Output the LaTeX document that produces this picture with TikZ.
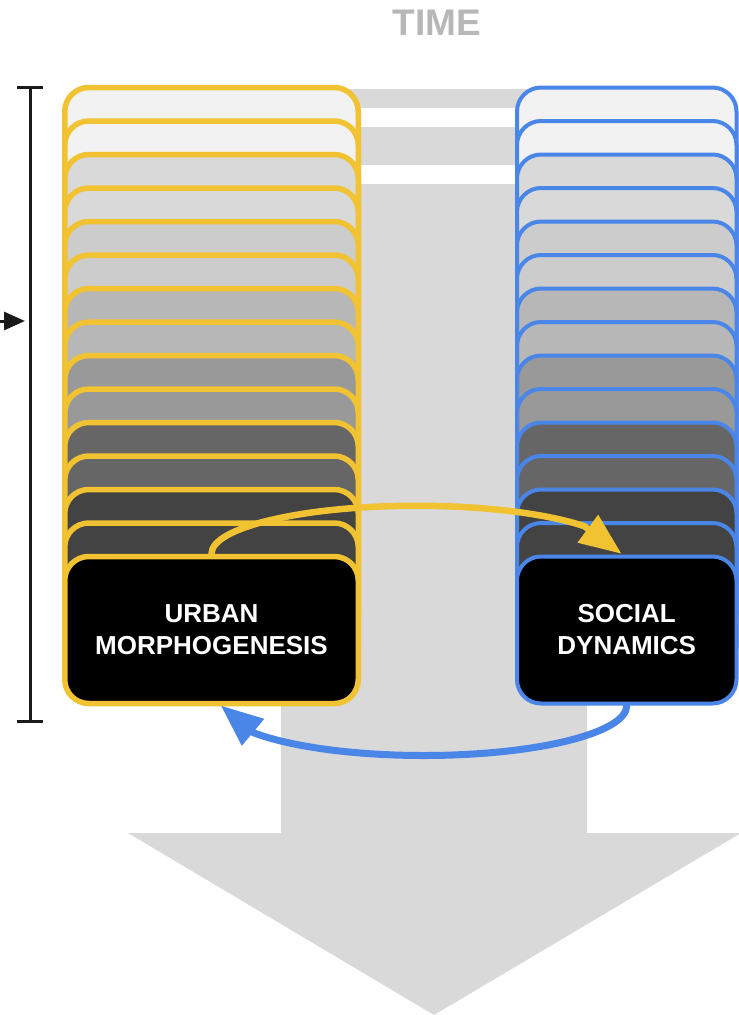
\documentclass[tikz,border=0pt]{standalone}
\usepackage{fontspec}
\setmainfont{Liberation Sans}
\usetikzlibrary{arrows.meta,calc}
\definecolor{yel}{HTML}{F1C232}
\definecolor{blu}{HTML}{4A86E8}
\definecolor{tgray}{HTML}{D9D9D9}
\definecolor{ttext}{HTML}{B7B7B7}
\definecolor{brk}{HTML}{1A1A1A}
\definecolor{c0}{HTML}{F2F2F2}
\definecolor{c1}{HTML}{F2F2F2}
\definecolor{c2}{HTML}{D9D9D9}
\definecolor{c3}{HTML}{D9D9D9}
\definecolor{c4}{HTML}{CCCCCC}
\definecolor{c5}{HTML}{CCCCCC}
\definecolor{c6}{HTML}{B7B7B7}
\definecolor{c7}{HTML}{B7B7B7}
\definecolor{c8}{HTML}{999999}
\definecolor{c9}{HTML}{999999}
\definecolor{c10}{HTML}{666666}
\definecolor{c11}{HTML}{666666}
\definecolor{c12}{HTML}{434343}
\definecolor{c13}{HTML}{434343}
\definecolor{c14}{HTML}{000000}
\tikzset{
  card/.style={rectangle, rounded corners=24pt, inner sep=0pt, minimum height=147pt,
    text=white, align=center, font=\bfseries\fontsize{26pt}{32pt}\selectfont},
  lcard/.style={card, draw=yel, line width=5.5pt, minimum width=293.5pt},
  rcard/.style={card, draw=blu, line width=4pt, minimum width=219.5pt},
  loopyel/.style={draw=yel, line width=6.5pt, line cap=round, -{Triangle[length=42pt,width=33pt]}},
  loopblu/.style={draw=blu, line width=7pt, line cap=round, -{Triangle[length=42pt,width=33pt]}},
  brack/.style={draw=brk, line width=3pt},
}
\begin{document}
\begin{tikzpicture}[x=1pt,y=1pt]
\useasboundingbox (0,0) rectangle (739,-1015);
% time arrow
\fill[tgray] (281,-89) rectangle (587,-108);
\fill[tgray] (281,-127) rectangle (587,-165);
\fill[tgray] (281,-184) -- (587,-184) -- (587,-833) -- (741,-833) -- (434,-1015) -- (128,-833) -- (281,-833) -- cycle;
\node[font=\bfseries\fontsize{37pt}{40pt}\selectfont, text=ttext] (time) at (437,-23) {TIME};
% bracket
\coordinate (bt) at (30,-87);
\coordinate (bb) at (30,-721);
\coordinate (btl) at (17,-87);
\coordinate (btr) at (43,-87);
\coordinate (bbl) at (17,-721);
\coordinate (bbr) at (43,-721);
\draw[brack] (bt) -- (bb);
\draw[brack] (btl) -- (btr);
\draw[brack] (bbl) -- (bbr);
\coordinate (ain) at (0,-321);
\coordinate (aout) at (25,-321);
\draw[brack, -{Triangle[length=21pt,width=18pt]}] (ain) -- (aout);
% stacks
\foreach \i in {0,...,13}{
  \node[lcard, fill=c\i] (L\i) at (211.5,{-161-33.5*\i}) {};
  \node[rcard, fill=c\i] (R\i) at (626.75,{-161-33.5*\i}) {};
}
\node[lcard, fill=c14] (L14) at (211.5,-630) {URBAN\\MORPHOGENESIS};
\node[rcard, fill=c14] (R14) at (626.75,-630) {SOCIAL\\DYNAMICS};
% loops
\coordinate (btip) at ($(R14.south)+(-406,0)$);
\coordinate (ytip) at ($(L14.north)+(410,0)$);
\draw[loopblu] (R14.south) arc[start angle=0, end angle=-147, x radius=203pt, y radius=50pt] -- (btip);
\draw[loopyel] (L14.north) arc[start angle=180, end angle=35, x radius=205pt, y radius=48pt] -- (ytip);
\end{tikzpicture}
\end{document}
